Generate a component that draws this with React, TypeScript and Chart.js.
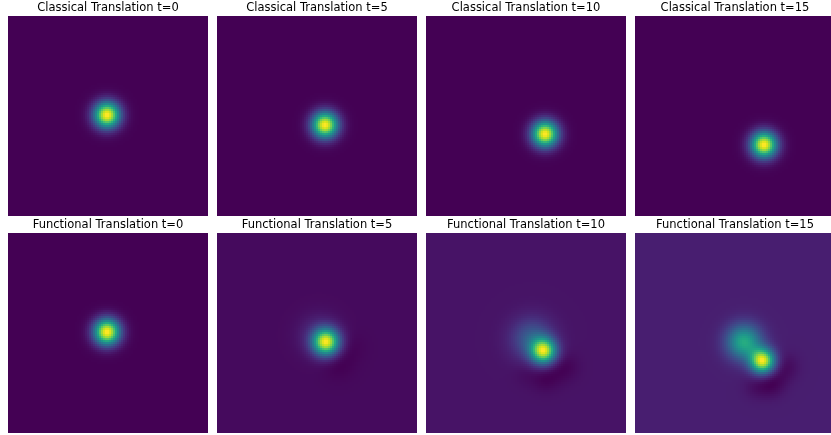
import React, { useEffect, useRef } from "react";
import { Chart, registerables } from "chart.js";

Chart.register(...registerables);

const GRID = 100;
const TIMES = [0, 5, 10, 15];
const ROW_TITLES = ["Classical Translation", "Functional Translation"];

// Gaussian components: [centerX, centerY, sigma, amplitude] in grid cells
const CLASSICAL_T0 = [[49.5, 49.5, 4.5, 1]];
const CLASSICAL_T5 = [[54, 54.5, 4.5, 1]];
const CLASSICAL_T10 = [[59.5, 59, 4.5, 1]];
const CLASSICAL_T15 = [[64.5, 64.4, 4.5, 1]];

const FUNCTIONAL_T0 = [[49.5, 49.5, 4.5, 1]];
const FUNCTIONAL_T5 = [
  [54.5, 54.5, 4.5, 1],
  [51, 51, 7, 0.1],
  [60.5, 65, 5.5, -0.035],
  [67, 57, 5, -0.02],
];
const FUNCTIONAL_T10 = [
  [58.8, 59, 4.3, 1],
  [53, 53, 7, 0.3],
  [60, 72, 5, -0.06],
  [69, 67, 5, -0.055],
  [50, 70, 4.5, -0.025],
];
const FUNCTIONAL_T15 = [
  [63.8, 64, 4.2, 1],
  [54.5, 54.5, 6, 0.6],
  [68, 75, 5, -0.09],
  [75, 67, 5, -0.065],
  [60, 77, 4.5, -0.04],
];

const CLASSICAL = [CLASSICAL_T0, CLASSICAL_T5, CLASSICAL_T10, CLASSICAL_T15];
const FUNCTIONAL = [FUNCTIONAL_T0, FUNCTIONAL_T5, FUNCTIONAL_T10, FUNCTIONAL_T15];

// viridis colormap stops
const VIRIDIS = [
  "#440154", "#481a6c", "#472f7d", "#414487", "#39568c", "#31688e", "#2a788e", "#23888e",
  "#1f988b", "#22a884", "#35b779", "#54c568", "#7ad151", "#a5db36", "#d2e21b", "#fde725",
];

const VIRIDIS_RGB = VIRIDIS.map((h) => [
  parseInt(h.slice(1, 3), 16),
  parseInt(h.slice(3, 5), 16),
  parseInt(h.slice(5, 7), 16),
]);

function viridis(t: number): string {
  const v = Math.max(0, Math.min(1, t)) * (VIRIDIS_RGB.length - 1);
  const i = Math.min(VIRIDIS_RGB.length - 2, Math.floor(v));
  const f = v - i;
  const a = VIRIDIS_RGB[i];
  const b = VIRIDIS_RGB[i + 1];
  const r = Math.round(a[0] + (b[0] - a[0]) * f);
  const g = Math.round(a[1] + (b[1] - a[1]) * f);
  const bl = Math.round(a[2] + (b[2] - a[2]) * f);
  return `rgb(${r},${g},${bl})`;
}

function buildField(blobs: number[][]) {
  const values: number[] = [];
  const points: { x: number; y: number }[] = [];
  for (let j = 0; j < GRID; j++) {
    for (let i = 0; i < GRID; i++) {
      let v = 0;
      for (const [cx, cy, s, amp] of blobs) {
        const d2 = (i - cx) * (i - cx) + (j - cy) * (j - cy);
        v += amp * Math.exp(-d2 / (2 * s * s));
      }
      values.push(v);
      points.push({ x: i, y: j });
    }
  }
  let min = Infinity;
  let max = -Infinity;
  for (const v of values) {
    if (v < min) min = v;
    if (v > max) max = v;
  }
  const colors = values.map((v) => viridis((v - min) / (max - min)));
  return { points, colors };
}

const PANEL = 200;
const TITLE_H = 15;

function Panel({ title, blobs, left, top }: { title: string; blobs: number[][]; left: number; top: number }) {
  const ref = useRef<HTMLCanvasElement>(null);
  useEffect(() => {
    const { points, colors } = buildField(blobs);
    const cell = PANEL / GRID;
    const chart = new Chart(ref.current as HTMLCanvasElement, {
      type: "scatter",
      data: {
        datasets: [
          {
            data: points,
            pointBackgroundColor: colors,
            pointBorderWidth: 0,
            pointRadius: cell * Math.SQRT2,
            pointHoverRadius: cell * Math.SQRT2,
            pointStyle: "rect",
          },
        ],
      },
      options: {
        responsive: false,
        animation: false,
        devicePixelRatio: 1,
        events: [],
        layout: { padding: 0, autoPadding: false },
        plugins: {
          legend: { display: false },
          tooltip: { enabled: false },
          title: {
            display: true,
            text: title,
            color: "#000",
            font: { family: "'DejaVu Sans', sans-serif", size: 11.5, weight: "normal", lineHeight: "14px" },
            padding: { top: 0, bottom: 1 },
          },
        },
        scales: {
          x: { type: "linear", display: false, min: -0.5, max: GRID - 0.5 },
          y: { type: "linear", display: false, min: -0.5, max: GRID - 0.5, reverse: true },
        },
      } as any,
    });
    return () => chart.destroy();
  }, []);
  return (
    <div style={{ position: "absolute", left, top, width: PANEL, height: PANEL + TITLE_H }}>
      <canvas ref={ref} width={PANEL} height={PANEL + TITLE_H} style={{ width: PANEL, height: PANEL + TITLE_H, display: "block" }} />
    </div>
  );
}

export default function App() {
  const rows = [CLASSICAL, FUNCTIONAL];
  return (
    <div style={{ position: "absolute", left: 0, top: 0, width: 831, height: 435, overflow: "hidden", background: "#fff" }}>
      {rows.map((row, r) =>
        row.map((blobs, c) => (
          <Panel
            key={`${r}-${c}`}
            title={`${ROW_TITLES[r]} t=${TIMES[c]}`}
            blobs={blobs}
            left={8 + 209 * c}
            top={1 + 217 * r}
          />
        ))
      )}
    </div>
  );
}
